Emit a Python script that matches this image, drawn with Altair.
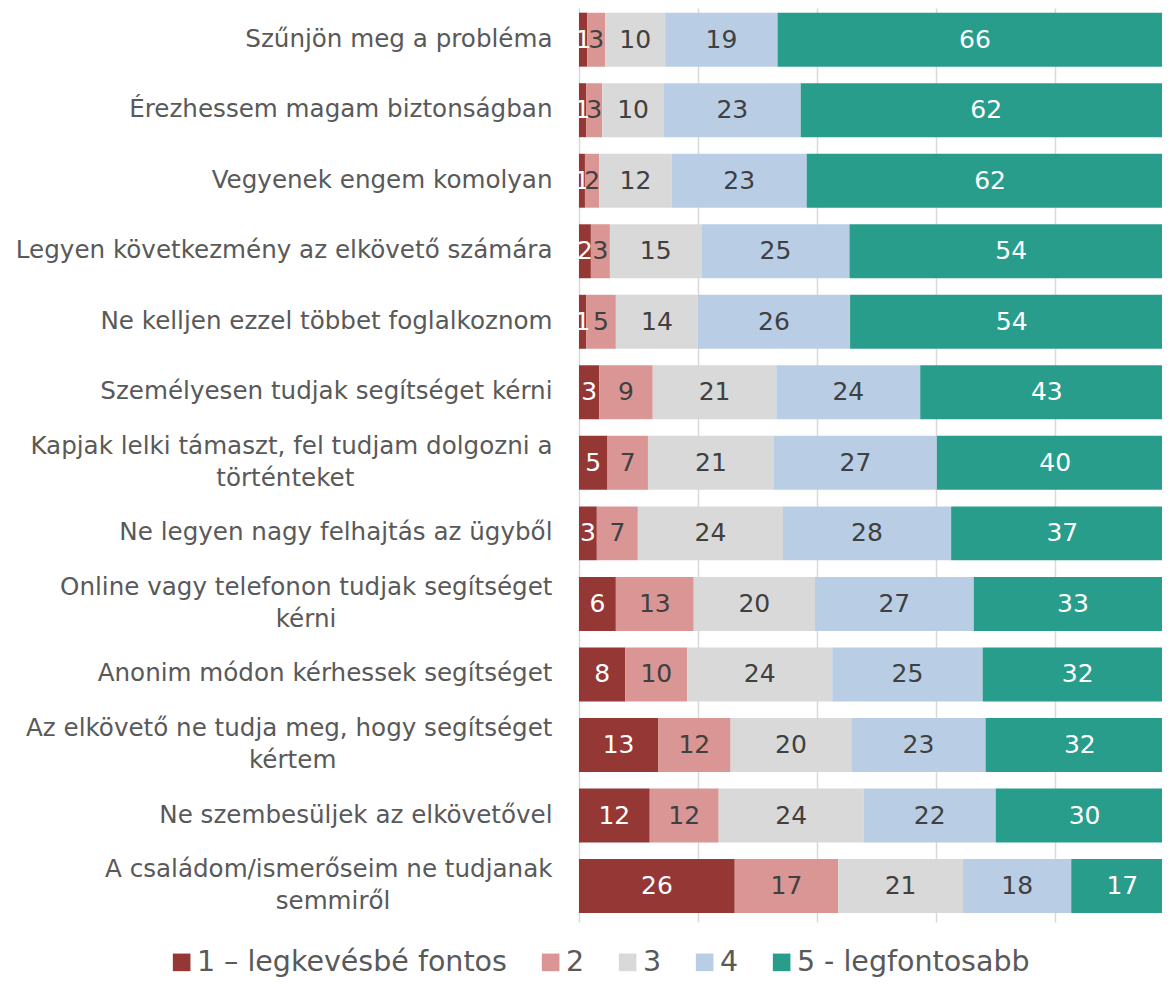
import altair as alt
import pandas as pd

categories = [
    "Szűnjön meg a probléma",
    "Érezhessem magam biztonságban",
    "Vegyenek engem komolyan",
    "Legyen következmény az elkövető számára",
    "Ne kelljen ezzel többet foglalkoznom",
    "Személyesen tudjak segítséget kérni",
    "Kapjak lelki támaszt, fel tudjam dolgozni a|történteket",
    "Ne legyen nagy felhajtás az ügyből",
    "Online vagy telefonon tudjak segítséget|kérni",
    "Anonim módon kérhessek segítséget",
    "Az elkövető ne tudja meg, hogy segítséget|kértem",
    "Ne szembesüljek az elkövetővel",
    "A családom/ismerőseim ne tudjanak|semmiről",
]
levels = ["1 – legkevésbé fontos", "2", "3", "4", "5 - legfontosabb"]
s1 = [1.4, 1.2, 1.0, 2.0, 1.2, 3.4, 4.8, 3.0, 6.2, 7.8, 13.3, 11.9, 26.2]
s2 = [3.0, 2.7, 2.4, 3.2, 5.0, 9.0, 6.8, 6.9, 13.1, 10.4, 12.2, 11.6, 17.4]
s3 = [10.1, 10.4, 12.2, 15.4, 13.8, 20.8, 21.2, 24.4, 20.4, 24.4, 20.3, 24.4, 21.0]
s4 = [18.9, 23.0, 22.7, 24.9, 25.6, 24.2, 27.4, 28.3, 26.7, 25.3, 22.6, 22.2, 18.2]
s5 = [66.4, 62.4, 61.7, 54.4, 54.4, 42.6, 39.8, 37.4, 33.4, 32.0, 31.7, 29.9, 17.2]
colors = ["#953735", "#D99694", "#D9D9D9", "#B9CDE5", "#299D8B"]

# blank glyphs appended to a wrapped second line so that it sits centred under the first
second_line_pad = {6: 11, 8: 12, 10: 12, 12: 9}

FONT = "DejaVu Sans"
BLANK = "\u2800"

shown = [c + BLANK * second_line_pad.get(i, 0) for i, c in enumerate(categories)]

rows = []
for i, c in enumerate(shown):
    for k, (lvl, arr) in enumerate(zip(levels, [s1, s2, s3, s4, s5])):
        rows.append(dict(cat=c, level=lvl, k=k, value=arr[i]))
df = pd.DataFrame(rows)

base = alt.Chart(df).transform_stack(
    stack="value", groupby=["cat"], as_=["v0", "v1"],
    sort=[alt.SortField("k", order="ascending")],
).transform_calculate(mid="(datum.v0 + datum.v1) / 2")

yscale = alt.Scale(paddingInner=0.235, paddingOuter=0.097, align=0.343)
y = alt.Y(
    "cat:N", sort=shown, title=None, scale=yscale,
    axis=alt.Axis(
        labelExpr="split(datum.label, '|')", labelFont=FONT, labelFontSize=24.6,
        labelColor="#595959", labelPadding=27, ticks=False, domain=False,
        labelLimit=0, labelLineHeight=32, labelAlign="right", labelBaseline="middle",
        labelOffset={"condition": {"test": "indexof(datum.value, '|') >= 0", "value": -16},
                     "value": 0},
        grid=False,
    ),
)
xscale = alt.Scale(domain=[0, 98.07], nice=False, zero=True)

bars = base.mark_bar(clip=True).encode(
    x=alt.X("v0:Q", scale=xscale, title=None,
            axis=alt.Axis(values=[0, 20, 40, 60, 80], labels=False, ticks=False,
                          domain=False, grid=True, gridColor="#D9D9D9", gridWidth=1.5)),
    x2="v1:Q",
    y=y,
    color=alt.Color(
        "level:N", scale=alt.Scale(domain=levels, range=colors),
        legend=alt.Legend(
            orient="none", legendX=-411.6, legendY=940, direction="horizontal",
            title=None, symbolType="square", symbolSize=310, symbolStrokeWidth=0,
            labelFontSize=28.5, labelFont=FONT, labelColor="#595959",
            columnPadding=29, labelOffset=1, labelLimit=0, padding=0,
        ),
    ),
    order=alt.Order("k:Q"),
)

texts = base.mark_text(fontSize=25, font=FONT, clip=True).encode(
    x=alt.X("mid:Q", scale=xscale),
    y=alt.Y("cat:N", sort=shown),
    text=alt.Text("value:Q", format=".0f"),
    color=alt.condition("datum.k == 0 || datum.k == 4",
                        alt.value("#FFFFFF"), alt.value("#404040")),
)

chart = alt.layer(bars, texts).properties(
    width=583, height=914,
    padding={"left": 571, "top": 0, "right": 0, "bottom": 57},
    autosize=alt.AutoSizeParams(type="none"),
).configure_view(stroke=None)

chart.save("out.html", embed_options={"renderer": "svg", "actions": False})
